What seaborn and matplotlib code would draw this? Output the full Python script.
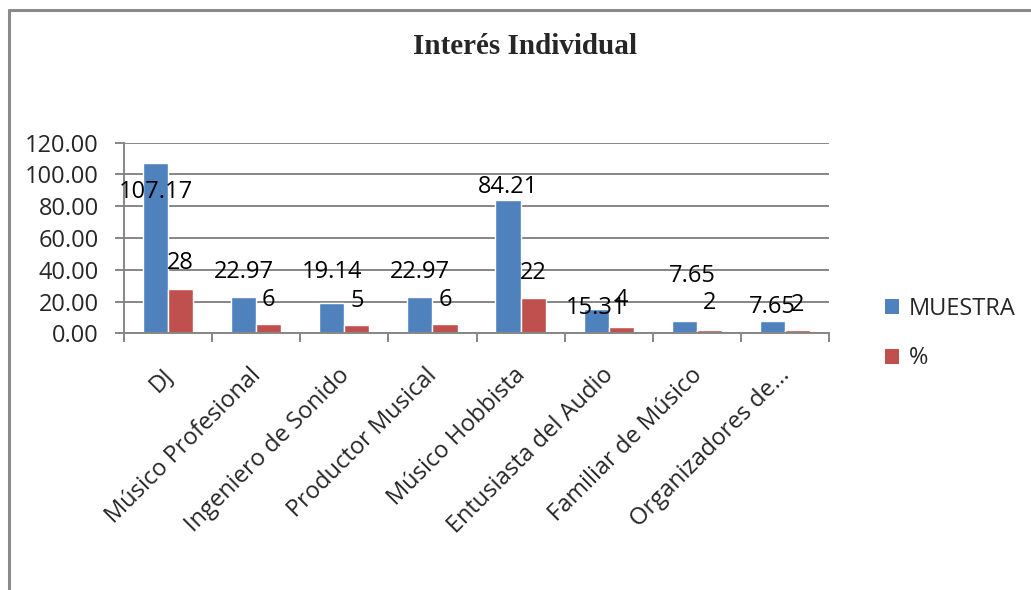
import matplotlib
matplotlib.use("Agg")
import matplotlib.pyplot as plt
import seaborn as sns
import pandas as pd
from matplotlib.lines import Line2D
from matplotlib.patches import Patch
from matplotlib.transforms import ScaledTranslation

# ---- data ----
categories = [
    "DJ",
    "Músico Profesional",
    "Ingeniero de Sonido",
    "Productor Musical",
    "Músico Hobbista",
    "Entusiasta del Audio",
    "Familiar de Músico",
    "Organizadores de...",
]
muestra = [107.17, 22.97, 19.14, 22.97, 84.21, 15.31, 7.65, 7.65]
porcentaje = [28, 6, 5, 6, 22, 4, 2, 2]
series_names = ["MUESTRA", "%"]
yticks = [0, 20, 40, 60, 80, 100, 120]
title = "Interés Individual"

# label placement relative to each bar top (pixels: dx, dy)
label_shift_muestra = [(0, -29), (0, 25), (0, 31), (0, 25), (0, 13), (0, 1), (8, 45), (0, 14)]
label_shift_pct = [(0, 26), (0, 24), (0, 24), (0, 24), (0, 25), (0, 27), (0, 27), (0, 25)]

colors = ["#4F81BD", "#C0504D"]
grid_grey = "#868686"

df = pd.DataFrame({
    "categoria": categories * 2,
    "valor": muestra + porcentaje,
    "serie": [series_names[0]] * len(categories) + [series_names[1]] * len(categories),
})

sns.set_style("white")
plt.rcParams["font.family"] = ["Open Sans", "DejaVu Sans"]

W, H = 1031, 590
fig = plt.figure(figsize=(W / 100, H / 100), dpi=100)
ax = fig.add_axes([124 / W, (H - 333.3) / H, (829 - 124) / W, 190.6 / H])

sns.barplot(
    data=df, x="categoria", y="valor", hue="serie",
    order=categories, hue_order=series_names,
    palette=colors, saturation=1, width=0.57,
    errorbar=None, legend=False, ax=ax,
)

PX = 72 / 100  # points per pixel
FS = 17

ax.set_ylim(0, 120)
ax.set_xlim(-0.5, len(categories) - 0.5)
ax.set_yticks(yticks)
ax.set_yticklabels([f"{v:.2f}" for v in yticks], fontsize=FS)
ax.set_xlabel("")
ax.set_ylabel("")
ax.set_axisbelow(True)
ax.yaxis.grid(True, color=grid_grey, linewidth=1.4)
ax.xaxis.grid(False)
for side in ("top", "right"):
    ax.spines[side].set_visible(False)
for side in ("left", "bottom"):
    ax.spines[side].set_color(grid_grey)
    ax.spines[side].set_linewidth(1.4)

ax.tick_params(axis="y", which="major", left=True, length=9 * PX, width=1.4,
               color=grid_grey, pad=11.5, direction="out")
# category boundaries get the tick marks, centres carry the labels
ax.set_xticks([i - 0.5 for i in range(len(categories) + 1)], minor=True)
ax.tick_params(axis="x", which="minor", bottom=True, length=9 * PX, width=1.4,
               color=grid_grey, direction="out")
ax.tick_params(axis="x", which="major", bottom=True, length=0, pad=30 * PX)
ax.set_xticks(range(len(categories)))
ax.set_xticklabels(categories, rotation=45, ha="right", va="top",
                   rotation_mode="anchor", fontsize=FS)
shift = ScaledTranslation(-7 / 100, 0, fig.dpi_scale_trans)
for lab in ax.get_xticklabels():
    lab.set_transform(lab.get_transform() + shift)

# value labels
for cont, shifts, fmt in zip(ax.containers,
                             [label_shift_muestra, label_shift_pct],
                             ["{:.2f}", "{:g}"]):
    for bar, (dx, dy) in zip(cont.patches, shifts):
        v = bar.get_height()
        ax.annotate(fmt.format(v), xy=(bar.get_x() + bar.get_width() / 2, v),
                    xytext=(dx * PX, dy * PX), textcoords="offset points",
                    ha="center", va="center", fontsize=FS, color="black",
                    annotation_clip=False)

# legend
handles = [Patch(facecolor=c, edgecolor="none") for c in colors]
fig.legend(handles, series_names, loc="upper left",
           bbox_to_anchor=(885 / W, 1 - 297 / H), bbox_transform=fig.transFigure,
           frameon=False, fontsize=FS, handlelength=0.6, handleheight=0.6,
           handletextpad=0.4, labelspacing=1.08, borderpad=0, borderaxespad=0)

# title
fig.text(525 / W, 1 - 47 / H, title, ha="center", va="center",
         fontsize=21, fontweight="bold", family=["Liberation Serif", "DejaVu Serif"])

# chart frame (left and top edges)
frame_col = "#8a8a8a"
fig.add_artist(Line2D([9 / W, 9 / W], [0, 1 - 9.7 / H], transform=fig.transFigure,
                      color=frame_col, linewidth=2.2))
fig.add_artist(Line2D([9 / W, 1], [1 - 9.7 / H, 1 - 9.7 / H], transform=fig.transFigure,
                      color=frame_col, linewidth=2.2))

fig.savefig("out.png", dpi=100)
